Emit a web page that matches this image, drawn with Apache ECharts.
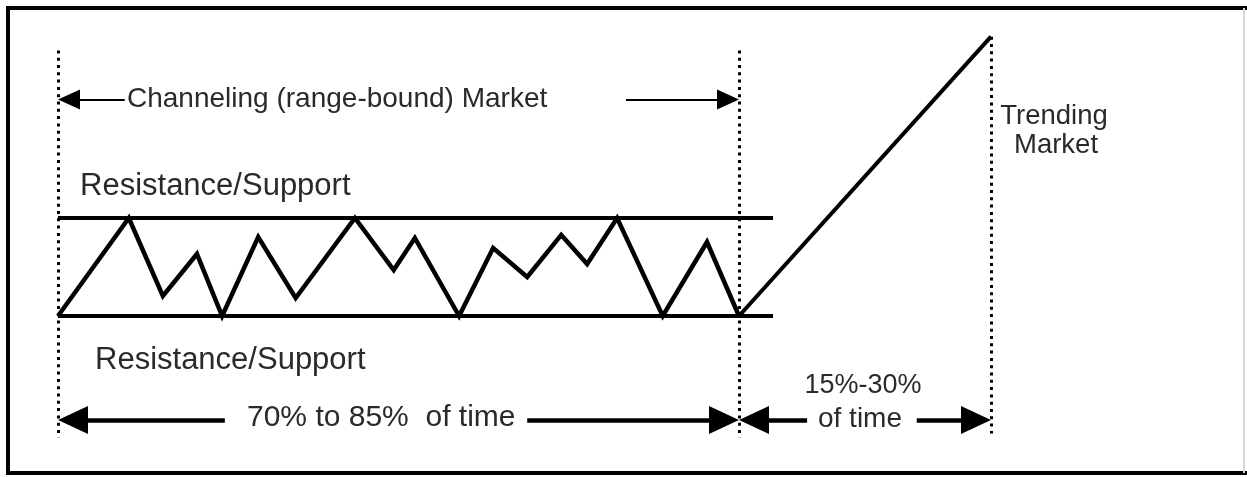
<!DOCTYPE html>
<html>
<head>
<meta charset="utf-8">
<script src="https://cdn.jsdelivr.net/npm/echarts@6/dist/echarts.min.js"></script>
<style>
  html, body { margin: 0; padding: 0; background: #fff; }
  #chart { width: 1247px; height: 477px; }
</style>
</head>
<body>
<div id="chart"></div>
<script>
// price path inside the channel (support = 0, resistance = 100), time in arbitrary units
const channelTime = [0, 10.4, 15.4, 20.4, 24.1, 29.4, 34.9, 43.6, 49.3, 52.4, 58.9, 63.9, 68.9, 73.9, 77.7, 82.1, 88.8, 95.3, 100];
const channelPrice = [0, 100, 20.4, 63.3, 0, 80.6, 18.4, 100, 46.9, 79.6, 0, 69.4, 39.8, 82.7, 53.1, 100, 0, 75.5, 0];
// breakout
const trendTime = [100, 137];
const trendPrice = [0, 285];
// support / resistance levels and how far they run
const levelPrice = [100, 0];
const levelEnd = 105;
// phase boundaries (dotted lines)
const phaseBounds = [0, 100, 137];
const boundTop = [271, 271, 285];
const boundBottom = [-124, -124, -120];
// arrow rows
const topArrowPrice = 221;
const bottomArrowPrice = -106;

// pixel mapping: time 0 -> x 58, 6.81 px per unit; price 0 -> y 316, 0.98 px per unit
const X0 = 58, XS = 6.81, Y0 = 316, YS = 0.98, W = 1247, H = 477;
const font = '"Liberation Sans", Arial, sans-serif';

let myChart = echarts.init(document.getElementById('chart'));

// arrow: tail -> tip, the head is centred on the endpoint so pull it back half a head
function arrow(tail, tip, price, headLen, headW) {
    let dir = tip > tail ? 1 : -1;
    let end = tip - dir * (headLen / 2) / XS;
    return [
        { coord: [tail, price], symbol: 'none' },
        { coord: [end, price], symbol: 'triangle', symbolSize: [headW, headLen] }
    ];
}

function text(str, x, y, size, align) {
    return {
        type: 'text', x: x, y: y, z: 10,
        style: {
            text: str, fill: '#2a2a2a', fontSize: size, fontFamily: font,
            align: align || 'left', verticalAlign: 'middle'
        }
    };
}

myChart.setOption({
    animation: false,
    backgroundColor: '#fff',
    grid: { left: 0, right: 0, top: 0, bottom: 0 },
    xAxis: { type: 'value', min: -X0 / XS, max: (W - X0) / XS, show: false },
    yAxis: { type: 'value', min: -(H - Y0) / YS, max: Y0 / YS, show: false },
    graphic: [
        { type: 'polyline', shape: { points: [[W, 8], [8, 8], [8, 473], [W, 473]] }, style: { stroke: '#000', lineWidth: 4, fill: null } },
        { type: 'line', shape: { x1: 1244, y1: 8, x2: 1244, y2: 473 }, style: { stroke: '#d8d8d8', lineWidth: 2 } },
        text('Channeling (range-bound) Market', 127, 99, 28),
        text('Resistance/Support', 80, 186, 31),
        text('Resistance/Support', 95, 360, 31),
        text('70% to 85%  of time', 247, 418, 30),
        text('15%-30%', 863, 386, 27, 'center'),
        text('of time', 860, 419, 28, 'center'),
        text('Trending', 1054, 116, 27.5, 'center'),
        text('Market', 1056, 145, 27.5, 'center')
    ],
    series: [
        {
            type: 'line',
            data: channelTime.map((t, i) => [t, channelPrice[i]]),
            symbol: 'none',
            lineStyle: { color: '#000', width: 4.5, join: 'miter' },
            z: 3,
            markLine: {
                silent: true,
                symbol: 'none',
                lineStyle: { color: '#000', width: 4, type: 'solid' },
                label: { show: false },
                data: levelPrice.map(p => [{ coord: [0, p] }, { coord: [levelEnd, p] }])
            }
        },
        {
            type: 'line',
            data: trendTime.map((t, i) => [t, trendPrice[i]]),
            symbol: 'none',
            lineStyle: { color: '#000', width: 4 },
            z: 3,
            markLine: {
                silent: true,
                symbol: 'none',
                lineStyle: { color: '#000', width: 3, type: [3, 4.3] },
                label: { show: false },
                data: phaseBounds.map((t, i) => [{ coord: [t, boundTop[i]] }, { coord: [t, boundBottom[i]] }])
            }
        },
        {
            type: 'line',
            data: [],
            markLine: {
                silent: true,
                lineStyle: { color: '#000', width: 2, type: 'solid' },
                itemStyle: { color: '#000' },
                label: { show: false },
                data: [
                    arrow(9.8, phaseBounds[0], topArrowPrice, 22, 20),
                    arrow(83.4, phaseBounds[1], topArrowPrice, 22, 20)
                ]
            }
        },
        {
            type: 'line',
            data: [],
            markLine: {
                silent: true,
                lineStyle: { color: '#000', width: 4.5, type: 'solid' },
                itemStyle: { color: '#000' },
                label: { show: false },
                data: [
                    arrow(24.5, phaseBounds[0], bottomArrowPrice, 30, 28),
                    arrow(68.9, phaseBounds[1], bottomArrowPrice, 30, 28),
                    arrow(110, phaseBounds[1], bottomArrowPrice, 30, 28),
                    arrow(126.1, phaseBounds[2], bottomArrowPrice, 30, 28)
                ]
            }
        }
    ]
});
</script>
</body>
</html>
